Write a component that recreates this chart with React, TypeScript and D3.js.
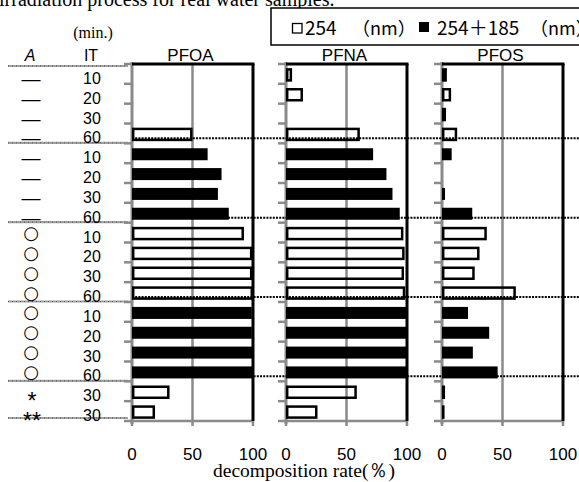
import React from "react";
import * as d3 from "d3";

const aLabels = ["—","—","—","—","—","—","—","—","○","○","○","○","○","○","○","○","*","**"];
const itLabels = ["10","20","30","60","10","20","30","60","10","20","30","60","10","20","30","60","30","30"];
// 0 = 254 nm (open), 1 = 254+185 nm (filled)
const lampType = [0,0,0,0,1,1,1,1,0,0,0,0,1,1,1,1,0,0];
const compounds = ["PFOA","PFNA","PFOS"];
const pfoa = [0,0,0,49,62.5,74,71,80,91.5,98.5,98.5,99,99,99,100,100,30,18];
const pfna = [4,13,0,60,72,83,88,94,96,97,96.5,97.5,99.5,99.5,99.5,99.5,57.5,25];
const pfos = [3,6.5,2.3,11.5,8,0,2.5,25,36,30,26,60,21.5,39,25.5,46,1.5,0.3];
const xTicks = [0,50,100];
const groupEnds = [4,8,12,16];

const W = 579, H = 482;
const TOP = 64, BOTTOM = 421;
const panelX0 = [132, 286, 442];
const PW = 121;
const GRAY = "#8a8a8a";
const SANS = "'Liberation Sans', Arial, sans-serif";
const SERIF = "'Liberation Serif', 'Times New Roman', serif";
const CJK = "'Noto Sans CJK JP', 'Noto Sans', sans-serif";

export default function App() {
  const rows = d3.range(aLabels.length);
  const y = d3.scaleBand<number>().domain(rows).range([TOP, BOTTOM]).padding(0);
  const step = y.step();
  const series = [pfoa, pfna, pfos];
  const bound = (i: number) => TOP + i * step;

  return (
    <svg width={W} height={H} style={{ position: "absolute", left: 0, top: 0, background: "#fff" }}>
      <rect x={0} y={0} width={W} height={H} fill="#fff" />
      {/* title (cut at top) */}
      <text x={-1} y={6} fontFamily={SERIF} fontSize={20}>irradiation process for real water samples.</text>
      {/* legend */}
      <rect x={271} y={8} width={330} height={37} fill="#fff" stroke="#000" strokeWidth={1.5} />
      <rect x={292.5} y={23.5} width={9.5} height={9.5} fill="#fff" stroke="#000" strokeWidth={1.3} />
      <text x={305} y={35} fontFamily={CJK} fontSize={19}>254</text>
      <text x={352} y={35} fontFamily={CJK} fontSize={18}>（nm）</text>
      <rect x={419} y={22} width={10} height={10} fill="#000" />
      <text x={437} y={35} fontFamily={CJK} fontSize={19}>254＋185</text>
      <text x={530} y={35} fontFamily={CJK} fontSize={18}>（nm）</text>

      {/* headers */}
      <text x={93} y={38} textAnchor="middle" fontFamily={SERIF} fontSize={16}>(min.)</text>
      <text x={30} y={61} textAnchor="middle" fontFamily={SANS} fontStyle="italic" fontSize={16}>A</text>
      <text x={91} y={61} textAnchor="middle" fontFamily={SANS} fontSize={16}>IT</text>

      {/* left separators */}
      {[66, ...groupEnds.map(g => bound(g) - 0.5), 418].map((yy, i) => (
        <g key={"sep" + i}>
          <line x1={8} x2={128} y1={yy} y2={yy} stroke="#a0a0a0" strokeWidth={2.2} />
          <line x1={8} x2={128} y1={yy} y2={yy} stroke="#555" strokeWidth={1} strokeDasharray="1,3" />
        </g>
      ))}

      {/* row labels */}
      {rows.map(i => {
        const bb = bound(i + 1);
        const a = aLabels[i];
        let el;
        if (a === "—") el = <text x={31} y={bb + 1} textAnchor="middle" fontFamily={SANS} fontSize={19}>{a}</text>;
        else if (a === "○") el = <text x={31} y={bb - 3.5} textAnchor="middle" fontFamily="'DejaVu Sans', sans-serif" fontWeight={700} fontSize={18}>{a}</text>;
        else el = <text x={32} y={bb + 8} textAnchor="middle" fontFamily={SANS} fontSize={23}>{a}</text>;
        return (
          <g key={"lab" + i}>
            {el}
            <text x={92} y={bb} textAnchor="middle" fontFamily={SANS} fontSize={16}>{itLabels[i]}</text>
          </g>
        );
      })}

      {/* panels */}
      {compounds.map((c, p) => {
        const x = d3.scaleLinear().domain([0, 100]).range([panelX0[p], panelX0[p] + PW]);
        const vals = series[p];
        return (
          <g key={c}>
            <text x={(x(0) + x(100)) / 2 - 2} y={61} textAnchor="middle" fontFamily={SANS} fontSize={17}>{c}</text>
            {/* 50 gridline */}
            <line x1={x(50)} x2={x(50)} y1={TOP} y2={BOTTOM} stroke={GRAY} strokeWidth={2.5} />
            {/* y axis ticks */}
            {d3.range(rows.length + 1).map(k => (
              <line key={"yt" + k} x1={x(0) - 8} x2={x(0)} y1={bound(k)} y2={bound(k)} stroke={GRAY} strokeWidth={2.5} />
            ))}
            {/* x axis */}
            <line x1={x(0)} x2={x(100)} y1={BOTTOM} y2={BOTTOM} stroke={GRAY} strokeWidth={2.5} />
            {xTicks.map(t => (
              <g key={"xt" + t}>
                <line x1={x(t)} x2={x(t)} y1={BOTTOM} y2={BOTTOM + 5} stroke={GRAY} strokeWidth={2.5} />
                <text x={x(t)} y={460} textAnchor="middle" fontFamily={SANS} fontSize={17}>{t}</text>
              </g>
            ))}
            {/* y axis line */}
            <line x1={x(0)} x2={x(0)} y1={TOP - 2} y2={BOTTOM + 3} stroke={GRAY} strokeWidth={3} />
            {/* bars */}
            {rows.map(i => {
              if (vals[i] <= 0) return null;
              const cy = (y(i) as number) + step / 2 + 1;
              if (lampType[i] === 1) {
                const h = 12;
                return <rect key={"b" + i} x={x(0)} y={cy - h / 2} width={Math.max(0, x(vals[i]) - x(0))} height={h} fill="#000" />;
              }
              const h = 11;
              return <rect key={"b" + i} x={x(0) + 1.2} y={cy - h / 2} width={Math.max(0.1, x(vals[i]) - x(0) - 1.2)} height={h} fill="none" stroke="#000" strokeWidth={2.5} />;
            })}
            {/* frame top & right */}
            <line x1={x(0)} x2={x(100) + 1.5} y1={TOP} y2={TOP} stroke="#000" strokeWidth={3} />
            <line x1={x(100)} x2={x(100)} y1={TOP} y2={BOTTOM} stroke="#000" strokeWidth={3} />
          </g>
        );
      })}

      {/* dotted group separators */}
      {groupEnds.map(g => (
        <line key={"dot" + g} x1={panelX0[0]} x2={W} y1={bound(g) - 5} y2={bound(g) - 5} stroke="#000" strokeWidth={2} strokeDasharray="2,1.2" />
      ))}

      {/* axis title */}
      <text x={213} y={477} fontFamily={SERIF} fontSize={19.5}>decomposition rate(％)</text>
    </svg>
  );
}
